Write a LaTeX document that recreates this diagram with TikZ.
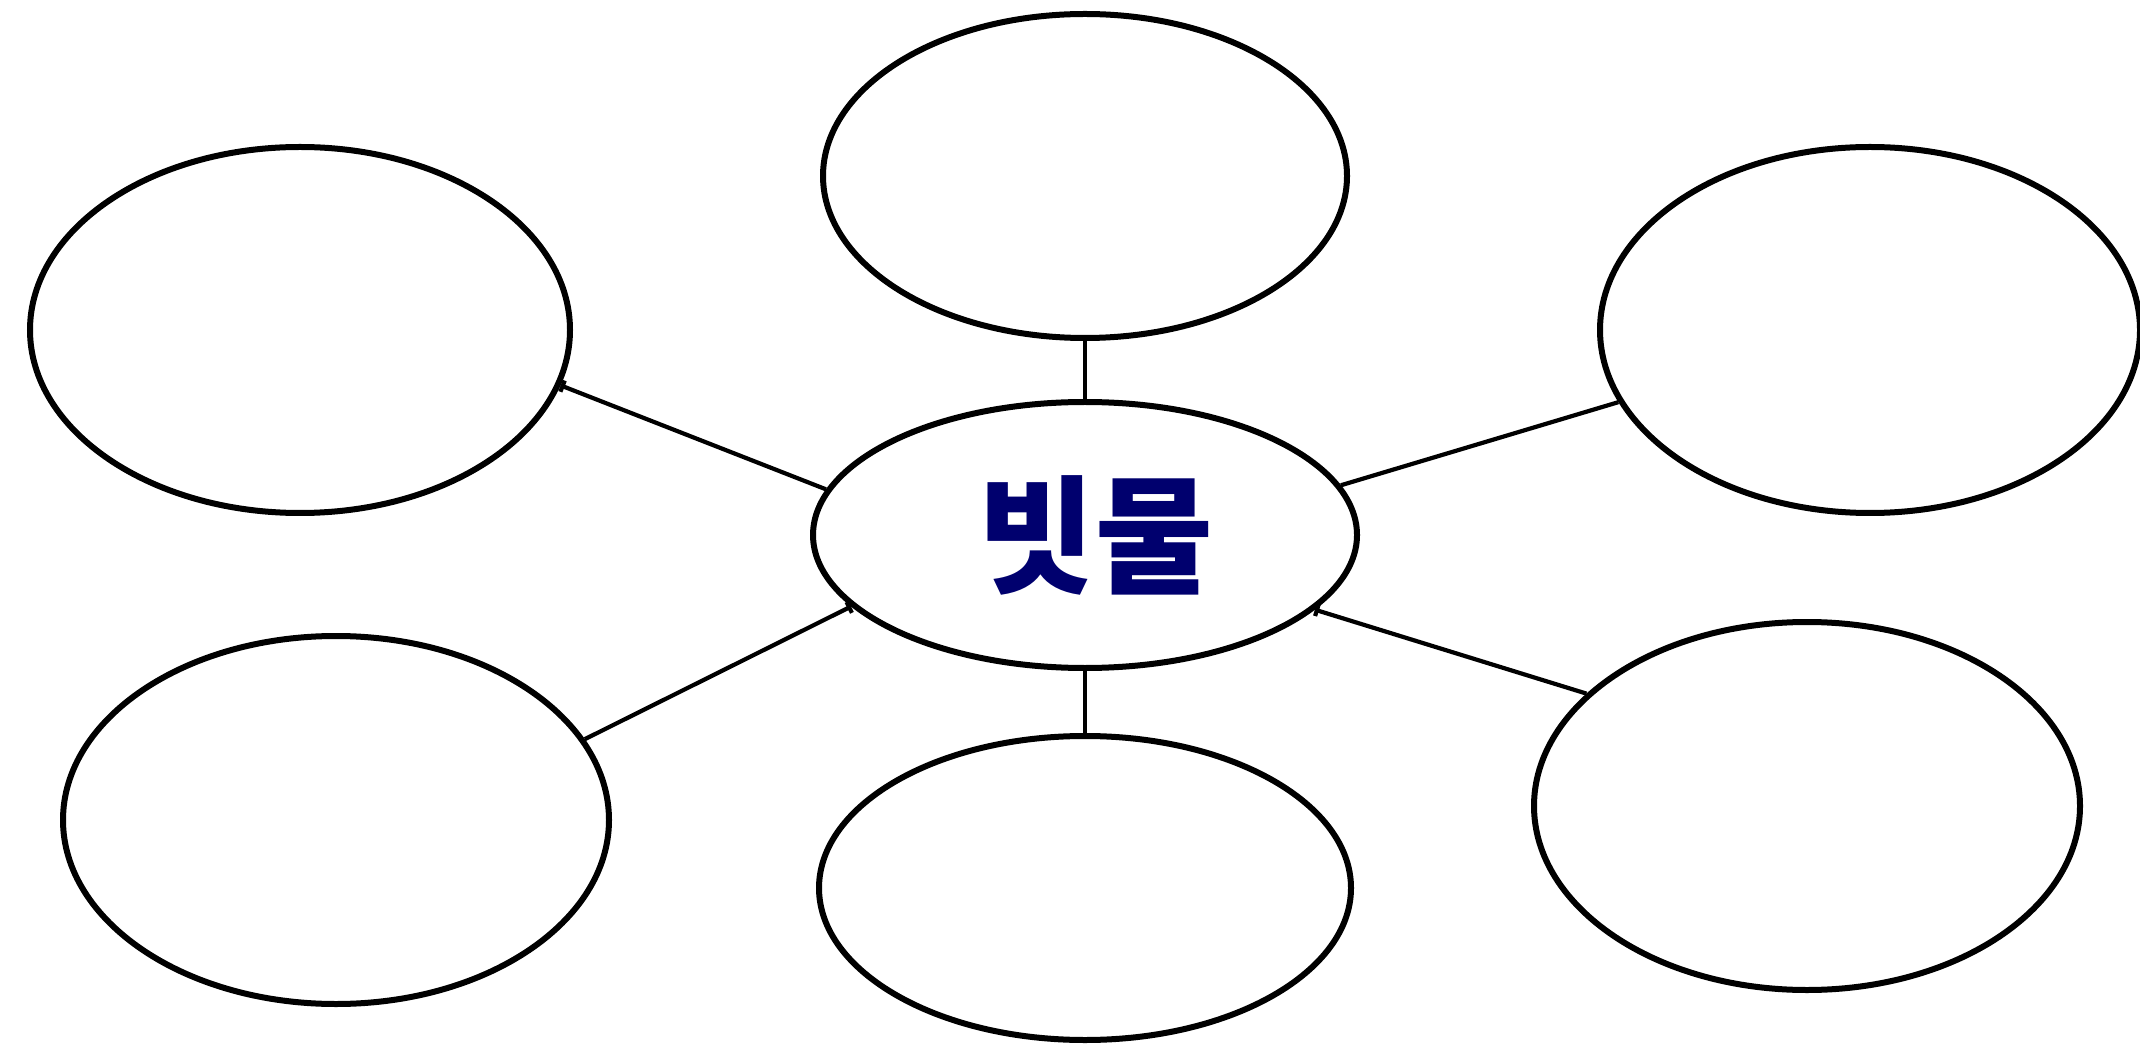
\documentclass[tikz,border=0pt]{standalone}
\usepackage{fontspec}
\newfontfamily\kofont{Noto Sans CJK KR}
\usetikzlibrary{shapes.geometric,arrows.meta}
\definecolor{rainblue}{RGB}{0,0,110}
\tikzset{
  bubble/.style={draw, ellipse, line width=3pt, inner sep=0pt},
  link/.style={line width=2.1pt},
  barend/.style={-{Bar[width=6pt]}},
  barstart/.style={{Bar[width=6pt]}-}
}
\begin{document}
\begin{tikzpicture}[x=0.5pt,y=-0.5pt]
\useasboundingbox (0,0) rectangle (2140,1058);
% centre
\node[bubble, minimum width=272pt, minimum height=133pt,
  font=\kofont\bfseries\fontsize{64pt}{64pt}\selectfont, text=rainblue] (rain) at (1085,535) {\kern10pt 빗물};
% around it
\node[bubble, minimum width=262pt, minimum height=162pt] (up) at (1085,176) {};
\node[bubble, minimum width=266pt, minimum height=152pt] (down) at (1085,888) {};
\node[bubble, minimum width=270pt, minimum height=183pt] (ul) at (300,330) {};
\node[bubble, minimum width=270pt, minimum height=183pt] (ur) at (1870,330) {};
\node[bubble, minimum width=273pt, minimum height=184pt] (ll) at (336,820) {};
\node[bubble, minimum width=273pt, minimum height=184pt] (lr) at (1807,806) {};
% links
\draw[link] (up.south) -- (rain.north);
\draw[link] (rain.south) -- (down.north);
\draw[link, barend] (rain.170.5) -- (ul.-12.3);
\draw[link] (rain.11.9) -- (ur.196.1);
\draw[link, barstart] (rain.197.7) -- (ll.18.6);
\draw[link, barstart] (rain.-18) -- (lr.153.6);
\end{tikzpicture}
\end{document}
